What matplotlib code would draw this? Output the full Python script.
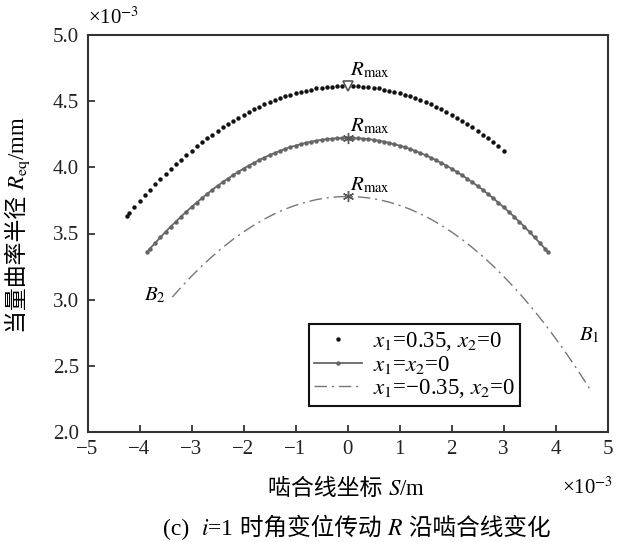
import numpy as np
import matplotlib
matplotlib.use("Agg")
import matplotlib.pyplot as plt

plt.rcParams['font.family'] = ['Liberation Serif', 'Noto Sans CJK SC']
plt.rcParams['mathtext.fontset'] = 'stix'
plt.rcParams['axes.unicode_minus'] = True

# ---- data (S in 1e-3 m, R_eq in 1e-3 mm) ----
s_top = [-4.25, -4.2, -4.1, -4.0, -3.9, -3.8, -3.7, -3.6, -3.5, -3.4, -3.3, -3.2, -3.1, -3.0,
         -2.9, -2.8, -2.7, -2.6, -2.5, -2.4, -2.3, -2.2, -2.1, -2.0, -1.9, -1.8, -1.7, -1.6,
         -1.5, -1.4, -1.3, -1.2, -1.1, -1.0, -0.9, -0.8, -0.7, -0.6, -0.5, -0.4, -0.3, -0.2,
         -0.1, 0.0, 0.1, 0.2, 0.3, 0.4, 0.5, 0.6, 0.7, 0.8, 0.9, 1.0, 1.1, 1.2, 1.3, 1.4, 1.5,
         1.6, 1.7, 1.8, 1.9, 2.0, 2.1, 2.2, 2.3, 2.4, 2.5, 2.6, 2.7, 2.8, 2.9, 3.0]
r_top = [3.634, 3.657, 3.702, 3.746, 3.789, 3.831, 3.872, 3.911, 3.950, 3.987, 4.024, 4.059, 4.093, 4.126,
         4.158, 4.189, 4.219, 4.248, 4.276, 4.302, 4.328, 4.352, 4.376, 4.398, 4.419, 4.439, 4.458, 4.476,
         4.493, 4.509, 4.523, 4.537, 4.549, 4.561, 4.571, 4.580, 4.588, 4.596, 4.601, 4.606, 4.610, 4.613,
         4.614, 4.615, 4.614, 4.613, 4.610, 4.606, 4.601, 4.596, 4.588, 4.580, 4.571, 4.561, 4.549, 4.537,
         4.523, 4.509, 4.493, 4.476, 4.458, 4.439, 4.419, 4.398, 4.376, 4.352, 4.328, 4.302, 4.276, 4.248,
         4.219, 4.189, 4.158, 4.126]

s_mid = [-3.85, -3.8, -3.7, -3.6, -3.5, -3.4, -3.3, -3.2, -3.1, -3.0, -2.9, -2.8, -2.7, -2.6, -2.5,
         -2.4, -2.3, -2.2, -2.1, -2.0, -1.9, -1.8, -1.7, -1.6, -1.5, -1.4, -1.3, -1.2, -1.1, -1.0,
         -0.9, -0.8, -0.7, -0.6, -0.5, -0.4, -0.3, -0.2, -0.1, 0.0, 0.1, 0.2, 0.3, 0.4, 0.5, 0.6,
         0.7, 0.8, 0.9, 1.0, 1.1, 1.2, 1.3, 1.4, 1.5, 1.6, 1.7, 1.8, 1.9, 2.0, 2.1, 2.2, 2.3, 2.4,
         2.5, 2.6, 2.7, 2.8, 2.9, 3.0, 3.1, 3.2, 3.3, 3.4, 3.5, 3.6, 3.7, 3.8, 3.85]
r_mid = [3.362, 3.385, 3.428, 3.470, 3.512, 3.552, 3.590, 3.628, 3.665, 3.700, 3.734, 3.767, 3.799, 3.830, 3.860,
         3.888, 3.915, 3.941, 3.966, 3.990, 4.013, 4.034, 4.054, 4.074, 4.092, 4.108, 4.124, 4.139, 4.152, 4.164,
         4.175, 4.185, 4.194, 4.201, 4.208, 4.213, 4.217, 4.220, 4.221, 4.222, 4.221, 4.220, 4.217, 4.213, 4.208,
         4.201, 4.194, 4.185, 4.175, 4.164, 4.152, 4.139, 4.124, 4.108, 4.092, 4.074, 4.054, 4.034, 4.013, 3.990,
         3.966, 3.941, 3.915, 3.888, 3.860, 3.830, 3.799, 3.767, 3.734, 3.700, 3.665, 3.628, 3.590, 3.552, 3.512,
         3.470, 3.428, 3.385, 3.362]

s_bot = [-3.37, -3.2, -3.0, -2.8, -2.6, -2.4, -2.2, -2.0, -1.8, -1.6, -1.4, -1.2, -1.0, -0.8, -0.6,
         -0.4, -0.2, 0.0, 0.2, 0.4, 0.6, 0.8, 1.0, 1.2, 1.4, 1.6, 1.8, 2.0, 2.2, 2.4, 2.6, 2.8,
         3.0, 3.2, 3.4, 3.6, 3.8, 4.0, 4.2, 4.4, 4.6, 4.66]
r_bot = [3.019, 3.094, 3.177, 3.255, 3.327, 3.394, 3.456, 3.512, 3.563, 3.609, 3.649, 3.684, 3.713, 3.737, 3.756,
         3.769, 3.777, 3.780, 3.777, 3.769, 3.756, 3.737, 3.713, 3.684, 3.649, 3.609, 3.563, 3.512, 3.456, 3.394,
         3.327, 3.255, 3.177, 3.094, 3.006, 2.912, 2.813, 2.708, 2.598, 2.483, 2.362, 2.325]

peak_s = [0.0, 0.0, 0.0]
peak_r = [4.615, 4.222, 3.780]

labels = ["$x_1$=0.35, $x_2$=0", "$x_1$=$x_2$=0", "$x_1$=\u22120.35, $x_2$=0"]
xticks = [-5, -4, -3, -2, -1, 0, 1, 2, 3, 4, 5]
yticks = [2.0, 2.5, 3.0, 3.5, 4.0, 4.5, 5.0]

W, H = 622, 542
fig = plt.figure(figsize=(W / 100, H / 100), dpi=100)
ax = fig.add_axes([87.5 / W, 1 - 432 / H, 520 / W, 397 / H])

dashdot = (0, (9, 3.5, 1.5, 3.5))
ax.plot(s_top, r_top, linestyle='none', marker='o', markersize=2.2, color='#111111', label=labels[0])
ax.plot(s_mid, r_mid, linestyle='-', linewidth=1.3, marker='o', markersize=2.2, color='#666666',
        label=labels[1])
ax.plot(s_bot, r_bot, linestyle=dashdot, linewidth=1.0, color='#777777', label=labels[2])

ax.plot(peak_s[0], peak_r[0], marker='v', markersize=7, markerfacecolor='white',
        markeredgecolor='#555555', markeredgewidth=1.2, linestyle='none')
ax.plot(peak_s[1:], peak_r[1:], marker=(6, 2, 0), markersize=8, markeredgecolor='#555555',
        markeredgewidth=1.0, linestyle='none')

for yl in [4.735, 4.31, 3.866]:
    ax.text(0.05, yl, "$R_{\\rm max}$", fontsize=15, ha='left', va='center')
ax.text(-3.5, 3.03, "$B_2$", fontsize=15, ha='right', va='center')
ax.text(4.45, 2.73, "$B_1$", fontsize=15, ha='left', va='center')

ax.set_xlim(-5, 5)
ax.set_ylim(2.0, 5.0)
ax.set_xticks(xticks)
ax.set_yticks(yticks)
ax.set_xticklabels([("\u2212%d" % -t) if t < 0 else "%d" % t for t in xticks])
ax.set_yticklabels(["%.1f" % t for t in yticks])
ax.tick_params(direction='in', length=5, width=1.2, labelsize=15, colors='#222222', pad=6,
               top=False, right=False)
for sp in ax.spines.values():
    sp.set_linewidth(1.5)
    sp.set_color('#333333')

leg = ax.legend(loc='lower right', bbox_to_anchor=(0.832, 0.065), fontsize=16.5, numpoints=1,
                handlelength=2.1, handletextpad=0.45, labelspacing=0.05, borderpad=0.25,
                borderaxespad=0, frameon=True, fancybox=False, framealpha=1)
leg.get_frame().set_edgecolor('#111111')
leg.get_frame().set_linewidth(1.5)

fig.text(88 / W, 1 - 18 / H, "\u00d710$^{-3}$", fontsize=15, ha='left', va='center')
fig.text(562 / W, 1 - 488 / H, "\u00d710$^{-3}$", fontsize=15, ha='left', va='center')


def text_run(pieces, cx, cy, fontsize, vertical=False):
    """Lay out text pieces one after another (pixel coords, y from top), centred at (cx, cy)."""
    renderer = fig.canvas.get_renderer()
    objs = []
    for p in pieces:
        t = fig.text(0, 0, p, fontsize=fontsize, ha='left', va='baseline',
                     rotation=90 if vertical else 0, rotation_mode='anchor',
                     transform=None)
        objs.append(t)
    sizes = []
    for t in objs:
        bb = t.get_window_extent(renderer)
        sizes.append(bb.height if vertical else bb.width)
    total = sum(sizes)
    pos = -total / 2
    for t, s in zip(objs, sizes):
        if vertical:
            t.set_position((cx, (H - cy) + pos))
        else:
            t.set_position((cx + pos, (H - cy)))
        pos += s
    return objs


text_run(["啮合线坐标 ", "$S$/m"], 347, 495, 16.5)
text_run(["当量曲率半径 ", "$R_{\\rm eq}$/mm"], 24, 225, 16.5, vertical=True)
text_run(["(c)\u2002", "$i$=1", " 时角变位传动 ", "$R$", " 沿啮合线变化"], 357, 535, 17)

fig.savefig("out.png", dpi=100)
